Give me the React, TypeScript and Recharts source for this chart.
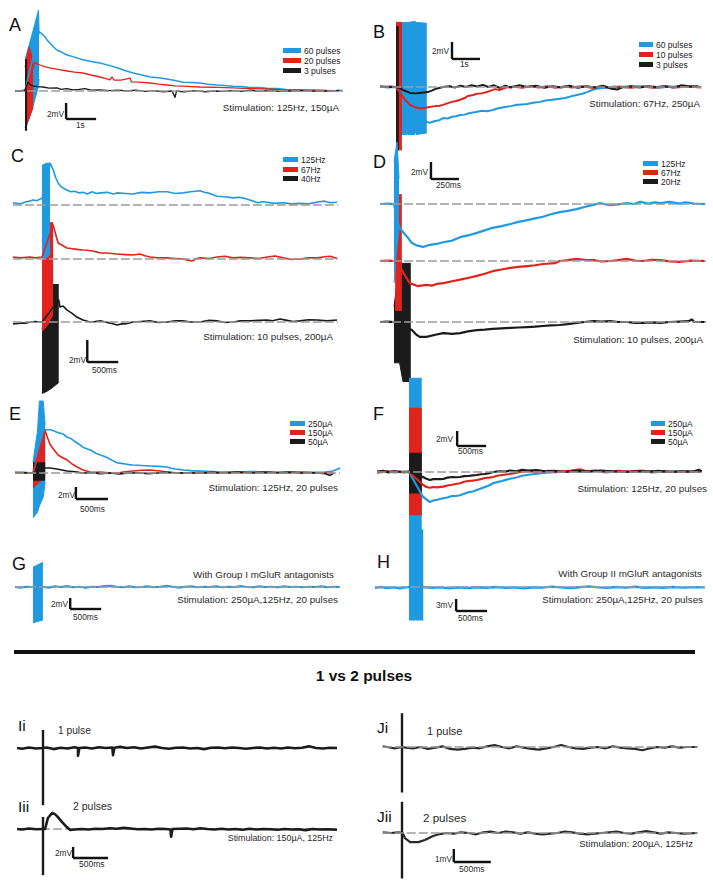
import React from "react";
import { ComposedChart, Line, Area, XAxis, YAxis, ReferenceLine } from "recharts";

const BLUE = "#1f9ae0";
const RED = "#e2231d";
const BLACK = "#1b1b1b";
const GRAY = "#9c9c9c";
const FONT = "'Liberation Sans', Arial, Helvetica, sans-serif";

type Pt = [number, number];
type Rg = [number, number, number];

// ---------------- Panel A (t in s, v in mV) ----------------
const aBase: Pt[] = [[-0.33, 0], [10.6, 0]];
const aBlueBurst: Rg[] = [[0, -4.9, 3.9], [0.23, -2.4, 7.0], [0.45, 0.6, 10.1], [0.47, 1.5, 7.4]];
const aBlue: Pt[] = [[-0.33, 0.05], [-0.2, -0.05], [-0.1, 0.05], [0, 0.1], [0.47, 7.4], [0.55, 7.2], [0.67, 6.75], [0.75, 6.3], [0.83, 6.0], [0.95, 5.5], [1.07, 5.1], [1.2, 4.9], [1.4, 4.5], [1.6, 4.3], [1.93, 3.9], [2.2, 3.7], [2.5, 3.5], [2.8, 3.2], [3.07, 2.9], [3.3, 2.6], [3.6, 2.25], [3.9, 2.0], [4.17, 1.75], [4.45, 1.65], [4.73, 1.5], [5.0, 1.3], [5.27, 1.1], [5.55, 1.05], [5.83, 1.0], [6.1, 0.85], [6.4, 0.75], [6.65, 0.7], [6.93, 0.6], [7.2, 0.55], [7.5, 0.45], [7.8, 0.45], [8.07, 0.35], [8.4, 0.3], [8.7, 0.2], [9.17, 0.15], [9.5, 0.1], [9.9, 0.05], [10.27, 0], [10.45, 0.1], [10.6, 0.05]];
const aRedBurst: Rg[] = [[0, -4.6, 3.0], [0.13, -3.5, 5.5], [0.27, -2.0, 4.0]];
const aRed: Pt[] = [[-0.33, 0], [-0.15, 0.05], [0, 0], [0.33, 3.6], [0.4, 3.4], [0.5, 3.25], [0.65, 3.05], [0.83, 2.9], [1.1, 2.7], [1.4, 2.5], [1.65, 2.35], [1.93, 2.25], [2.2, 2.0], [2.5, 1.75], [2.7, 1.55], [2.83, 1.4], [2.9, 1.75], [2.97, 1.35], [3.2, 1.35], [3.5, 1.6], [3.55, 1.15], [3.8, 1.1], [4.17, 1.0], [4.45, 0.85], [4.73, 0.75], [5.0, 0.65], [5.27, 0.6], [5.55, 0.55], [5.83, 0.5], [6.4, 0.45], [6.93, 0.4], [7.5, 0.3], [8.07, 0.25], [8.6, 0.15], [9.17, 0.12], [9.7, 0.1], [10.27, 0.05]];
const aBlackBurst: Rg[] = [[0, -4.9, 3.9], [0.07, -4.9, 3.9]];
const aBlack: Pt[] = [[-0.33, -0.05], [-0.15, 0.05], [0, 0.1], [0.1, 1.1], [0.17, 0.8], [0.27, 0.6], [0.4, 0.55], [0.6, 0.5], [0.8, 0.35], [1.07, 0.4], [1.2, 0.2], [1.4, 0.3], [1.6, 0.15], [1.8, 0.2], [2.0, 0.3], [2.2, 0.1], [2.5, 0.15], [2.8, 0.05], [3.1, 0.12], [3.4, 0.0], [3.7, 0.1], [4.0, -0.05], [4.3, 0.05], [4.6, -0.1], [4.9, 0.0], [5.0, -0.8], [5.05, 0.0], [5.3, -0.1], [5.7, 0.05], [6.0, -0.1], [6.3, 0.0], [6.6, -0.05], [6.9, 0.05], [7.2, -0.05], [7.5, 0.1], [7.8, -0.05], [8.1, 0.05], [8.5, -0.05], [8.9, 0.0], [9.3, 0.05], [9.7, -0.05], [10.1, 0.0], [10.5, 0.05]];
const aLegend = ["60 pulses", "20 pulses", "3 pulses"];

// ---------------- Panel B ----------------
const bBase: Pt[] = [[-0.57, 0], [10.93, 0]];
const bBlueBurst: Rg[] = [[0, -5.6, 7.5], [0.38, -5.6, 7.6], [0.39, -4.9, 7.6], [0.42, -5.6, 7.6], [0.67, -5.6, 7.7], [0.68, -5.0, 7.7], [0.72, -5.6, 7.6], [1.1, -5.4, 7.5]];
const bBlue: Pt[] = [[-0.57, 0.05], [-0.3, -0.05], [0, 0], [1.1, -4.1], [1.2, -4.2], [1.39, -4.0], [1.55, -3.9], [1.68, -3.65], [1.85, -3.7], [2.0, -3.5], [2.15, -3.45], [2.29, -3.3], [2.45, -3.25], [2.64, -3.05], [2.85, -2.95], [3.07, -2.8], [3.25, -2.85], [3.46, -2.7], [3.65, -2.5], [3.89, -2.35], [4.1, -2.25], [4.32, -2.1], [4.5, -2.05], [4.68, -2.0], [4.9, -1.85], [5.14, -1.75], [5.35, -1.6], [5.57, -1.5], [5.8, -1.4], [6.04, -1.3], [6.25, -1.1], [6.46, -0.95], [6.65, -0.8], [6.82, -0.6], [7.0, -0.35], [7.1, -0.25], [7.3, -0.15], [7.46, -0.1], [7.8, 0.05], [8.2, -0.05], [8.6, 0.1], [9.0, 0.0], [9.4, -0.1], [9.8, 0.05], [10.2, 0.0], [10.6, 0.05], [10.9, 0.0]];
const bRedBurst: Rg[] = [[0, -7.4, 7.6], [0.21, -7.4, 7.6]];
const bRed: Pt[] = [[-0.57, 0], [-0.2, 0.05], [0, 0], [0.21, -0.95], [0.32, -1.5], [0.5, -2.1], [0.75, -2.45], [0.9, -2.5], [1.04, -2.45], [1.2, -2.35], [1.39, -2.25], [1.55, -2.2], [1.68, -2.1], [1.85, -1.9], [2.0, -1.75], [2.15, -1.65], [2.29, -1.5], [2.45, -1.3], [2.57, -1.05], [2.75, -0.95], [2.89, -0.8], [3.05, -0.75], [3.25, -0.6], [3.4, -0.4], [3.54, -0.25], [3.7, -0.35], [3.89, -0.1], [4.2, 0.05], [4.5, -0.1], [4.8, 0.1], [5.1, -0.05], [5.4, 0.1], [5.7, -0.1], [6.0, 0.05], [6.3, -0.05], [6.6, 0.1], [7.0, -0.1], [7.3, 0.05], [7.7, -0.15], [8.0, 0.05], [8.4, -0.1], [8.8, 0.05], [9.2, -0.1], [9.6, 0.05], [10.0, -0.05], [10.4, 0.05], [10.9, -0.05]];
const bBlackBurst: Rg[] = [[0, -7.4, 7.1], [0.1, -7.4, 7.1]];
const bBlack: Pt[] = [[-0.57, 0.05], [-0.3, 0.0], [0, 0], [0.1, -0.1], [0.25, -0.35], [0.5, -0.7], [0.7, -0.75], [0.86, -0.7], [1.14, -0.6], [1.3, -0.4], [1.39, -0.25], [1.68, 0.0], [1.9, 0.1], [2.1, -0.05], [2.3, 0.15], [2.5, 0.0], [2.7, 0.2], [2.9, 0.05], [3.1, 0.25], [3.3, 0.0], [3.5, 0.2], [3.7, -0.1], [3.9, 0.15], [4.1, -0.05], [4.4, 0.2], [4.7, 0.0], [5.0, 0.15], [5.3, -0.1], [5.6, 0.1], [5.9, -0.05], [6.2, 0.15], [6.5, -0.1], [6.8, 0.1], [7.1, -0.05], [7.4, 0.15], [7.7, -0.2], [7.9, -0.3], [8.1, 0.0], [8.4, 0.1], [8.7, -0.05], [9.0, 0.1], [9.3, 0.0], [9.6, 0.1], [9.9, -0.05], [10.2, 0.2], [10.5, 0.05], [10.8, 0.1]];
const bLegend = ["60 pulses", "10 pulses", "3 pulses"];

// ---------------- Panel C ----------------
const cBase: Pt[] = [[-0.47, 0], [4.77, 0]];
const cBlueBurst: Rg[] = [[0, -5.0, 3.6], [0.07, -4.8, 3.8], [0.13, -4.5, 3.8]];
const cBlue: Pt[] = [[-0.47, 0.2], [-0.35, 0.1], [-0.27, 0.27], [-0.2, 0.35], [-0.15, 0.45], [-0.08, 0.4], [-0.03, 0.55], [0, 0.6], [0.13, 3.8], [0.18, 3.2], [0.22, 2.5], [0.26, 2.0], [0.3, 1.7], [0.34, 1.55], [0.4, 1.36], [0.46, 1.2], [0.53, 1.25], [0.6, 1.1], [0.66, 1.15], [0.73, 1.0], [0.81, 1.2], [0.88, 1.05], [0.94, 1.1], [1.05, 1.15], [1.15, 1.0], [1.21, 1.1], [1.35, 1.05], [1.47, 1.0], [1.6, 1.15], [1.74, 1.1], [1.88, 1.2], [2.02, 1.2], [2.15, 1.05], [2.27, 1.1], [2.4, 1.2], [2.55, 1.3], [2.62, 1.15], [2.68, 1.1], [2.75, 0.95], [2.82, 0.8], [2.95, 0.75], [3.08, 0.65], [3.18, 0.7], [3.27, 0.6], [3.35, 0.45], [3.48, 0.2], [3.56, 0.3], [3.63, 0.25], [3.75, 0.15], [3.89, 0.2], [4.02, 0.1], [4.16, 0.15], [4.3, 0.1], [4.44, 0.27], [4.56, 0.35], [4.65, 0.2], [4.76, 0.25]];
const cRedBurst: Rg[] = [[0, -6.6, 3.3], [0.09, -6.0, 3.3], [0.18, -5.0, 3.3]];
const cRed: Pt[] = [[-0.47, 0.18], [-0.35, 0.1], [-0.19, 0.18], [-0.1, 0.1], [0, 0.18], [0.18, 3.1], [0.21, 2.45], [0.26, 1.45], [0.34, 1.2], [0.4, 1.0], [0.47, 0.95], [0.53, 0.9], [0.6, 0.85], [0.66, 0.82], [0.73, 0.8], [0.81, 0.73], [0.88, 0.65], [0.94, 0.55], [1.05, 0.55], [1.21, 0.45], [1.35, 0.4], [1.47, 0.36], [1.58, 0.45], [1.66, 0.3], [1.74, 0.18], [1.88, 0.1], [2.02, 0.1], [2.15, 0.05], [2.27, 0.0], [2.35, -0.1], [2.42, -0.18], [2.5, 0.05], [2.55, 0.1], [2.7, 0.05], [2.82, 0.18], [2.95, 0.25], [3.08, 0.1], [3.2, 0.15], [3.35, 0.1], [3.5, 0.05], [3.63, 0.18], [3.76, 0.27], [3.89, 0.1], [4.02, -0.05], [4.16, 0.0], [4.3, 0.1], [4.44, 0.1], [4.56, 0.2], [4.65, 0.25], [4.76, 0.05]];
const cBlackBurst: Rg[] = [[0, -6.5, -0.7], [0.08, -6.3, 1.5], [0.16, -6.0, 3.4], [0.27, -5.5, 3.4]];
const cBlack: Pt[] = [[-0.47, -0.18], [-0.35, -0.1], [-0.27, -0.1], [-0.18, 0.0], [-0.11, 0.05], [0, 0.0], [0.27, 2.0], [0.29, 1.36], [0.34, 1.45], [0.4, 1.1], [0.48, 0.8], [0.56, 0.45], [0.66, 0.18], [0.75, 0.05], [0.81, 0.0], [0.94, 0.1], [1.02, 0.0], [1.1, -0.1], [1.21, -0.27], [1.3, -0.15], [1.34, -0.18], [1.47, 0.0], [1.6, 0.05], [1.74, 0.1], [1.88, -0.05], [2.02, 0.0], [2.15, 0.1], [2.27, 0.1], [2.4, 0.0], [2.55, 0.0], [2.7, 0.15], [2.82, 0.1], [2.95, -0.05], [3.08, 0.0], [3.2, 0.1], [3.35, 0.1], [3.5, 0.15], [3.63, 0.18], [3.72, 0.12], [3.84, 0.27], [3.95, 0.15], [4.05, 0.05], [4.16, 0.1], [4.3, 0.2], [4.44, 0.18], [4.6, 0.1], [4.76, 0.18]];
const cLegend = ["125Hz", "67Hz", "40Hz"];

// ---------------- Panel D ----------------
const dBase: Pt[] = [[-0.125, 0], [2.78, 0]];
const dBlueBurst: Rg[] = [[0, -9.3, 5.0], [0.027, -5.0, 7.3], [0.045, -3.0, 3.0]];
const dBlue: Pt[] = [[-0.125, 0], [-0.06, 0.05], [0, 0], [0.045, -2.7], [0.08, -3.3], [0.12, -3.9], [0.16, -4.6], [0.21, -4.9], [0.26, -5.05], [0.32, -4.8], [0.38, -4.7], [0.44, -4.5], [0.52, -4.3], [0.59, -3.9], [0.66, -3.7], [0.74, -3.4], [0.81, -3.1], [0.88, -2.8], [0.96, -2.6], [1.04, -2.35], [1.11, -2.1], [1.19, -1.9], [1.26, -1.7], [1.33, -1.5], [1.4, -1.2], [1.48, -0.95], [1.55, -0.8], [1.63, -0.6], [1.7, -0.35], [1.78, -0.1], [1.84, 0.1], [1.93, -0.15], [2.0, -0.05], [2.08, 0.1], [2.14, 0.0], [2.2, 0.25], [2.27, 0.05], [2.33, 0.2], [2.38, 0.1], [2.46, 0.25], [2.55, 0.05], [2.6, 0.2], [2.68, 0.05], [2.78, 0.0]];
const dRedBurst: Rg[] = [[0.01, -5.8, 7.8], [0.07, -5.8, 7.8]];
const dRed: Pt[] = [[-0.125, 0.0], [-0.06, 0.05], [0.01, 0], [0.07, -1.05], [0.1, -1.75], [0.14, -2.6], [0.21, -2.95], [0.29, -2.8], [0.34, -2.9], [0.38, -2.7], [0.44, -2.6], [0.53, -2.35], [0.59, -2.2], [0.66, -2.0], [0.74, -1.75], [0.81, -1.5], [0.88, -1.2], [0.96, -1.0], [1.04, -0.8], [1.11, -0.7], [1.19, -0.6], [1.26, -0.5], [1.33, -0.35], [1.44, -0.25], [1.48, 0.0], [1.55, 0.1], [1.63, 0.25], [1.7, 0.15], [1.78, 0.1], [1.85, -0.05], [1.93, 0.0], [2.0, 0.1], [2.08, 0.25], [2.15, 0.05], [2.22, 0.0], [2.3, 0.15], [2.38, 0.1], [2.46, -0.05], [2.55, -0.1], [2.65, 0.05], [2.78, 0.0]];
const dBlackBurst: Rg[] = [[0, -4.8, 1.8], [0.05, -4.8, 6.9], [0.08, -7.0, 6.9], [0.15, -7.0, 6.9]];
const dBlack: Pt[] = [[-0.125, 0.0], [-0.06, 0.05], [0, 0], [0.16, -0.95], [0.2, -1.5], [0.23, -1.75], [0.29, -1.75], [0.37, -1.5], [0.44, -1.3], [0.52, -1.4], [0.59, -1.3], [0.66, -1.1], [0.74, -0.95], [0.81, -0.9], [0.88, -0.8], [0.96, -0.75], [1.04, -0.7], [1.11, -0.65], [1.19, -0.6], [1.26, -0.55], [1.33, -0.47], [1.4, -0.4], [1.48, -0.35], [1.55, -0.25], [1.63, -0.1], [1.7, 0.0], [1.78, 0.1], [1.85, 0.05], [1.93, 0.1], [2.0, 0.0], [2.08, 0.0], [2.15, -0.1], [2.22, -0.1], [2.3, -0.05], [2.38, -0.1], [2.46, 0.0], [2.55, 0.05], [2.63, 0.1], [2.66, 0.3], [2.68, 0.0], [2.78, 0.0]];
const dLegend = ["125Hz", "67Hz", "20Hz"];

// ---------------- Panel E ----------------
const eBase: Pt[] = [[-0.28, 0], [4.8, 0]];
const eBlueBurst: Rg[] = [[0, -7.5, 1.8], [0.07, -6.5, 7.0], [0.1, -5.5, 12.0], [0.16, -4.0, 12.0], [0.19, -1.5, 8.0]];
const eBlue: Pt[] = [[-0.28, 0.0], [-0.15, 0.1], [0, 0.0], [0.19, 7.2], [0.27, 7.2], [0.33, 7.0], [0.375, 6.8], [0.47, 6.5], [0.53, 6.0], [0.6, 5.7], [0.66, 5.2], [0.72, 4.8], [0.78, 4.3], [0.85, 4.0], [0.92, 3.7], [0.98, 3.3], [1.05, 3.0], [1.11, 2.8], [1.17, 2.5], [1.24, 2.1], [1.31, 1.7], [1.38, 1.6], [1.44, 1.5], [1.5, 1.4], [1.56, 1.33], [1.7, 1.25], [1.83, 1.17], [1.96, 1.1], [2.09, 1.0], [2.16, 0.8], [2.22, 0.67], [2.28, 0.6], [2.34, 0.5], [2.47, 0.4], [2.61, 0.33], [2.87, 0.2], [3.13, 0.17], [3.4, 0.25], [3.66, 0.17], [3.9, 0.1], [4.17, 0.17], [4.4, 0.1], [4.56, 0.17], [4.69, 0.33], [4.8, 0.83]];
const eRedBurst: Rg[] = [[0, -2.5, 0.5], [0.1, -1.5, 4.0], [0.19, -0.5, 7.3]];
const eRed: Pt[] = [[-0.28, 0.0], [-0.12, 0.05], [0, 0.0], [0.19, 7.0], [0.23, 5.8], [0.27, 4.7], [0.34, 3.7], [0.39, 3.0], [0.47, 2.5], [0.53, 2.2], [0.61, 1.5], [0.69, 1.0], [0.78, 0.5], [0.89, 0.17], [0.97, 0.1], [1.05, 0.17], [1.18, 0.05], [1.31, 0.0], [1.44, 0.2], [1.56, 0.33], [1.7, 0.45], [1.83, 0.5], [1.98, 0.33], [2.09, 0.17], [2.22, 0.05], [2.34, 0.0], [2.6, 0.1], [2.87, 0.0], [3.13, 0.1], [3.4, 0.05], [3.66, 0.15], [3.9, 0.0], [4.17, 0.1], [4.4, 0.05], [4.69, 0.0]];
const eBlackBurst: Rg[] = [[0, -1.2, 1.7], [0.19, -1.2, 1.7]];
const eBlack: Pt[] = [[-0.28, 0.1], [-0.12, 0.05], [0, 0.0], [0.19, 0.83], [0.27, 0.83], [0.375, 0.67], [0.45, 0.5], [0.53, 0.33], [0.66, 0.2], [0.78, 0.0], [0.92, 0.05], [1.05, -0.1], [1.2, 0.0], [1.35, -0.15], [1.5, 0.0], [1.65, 0.05], [1.8, -0.1], [1.95, 0.0], [2.1, 0.1], [2.25, 0.0], [2.4, 0.05], [2.6, -0.05], [2.8, 0.1], [3.0, 0.0], [3.2, 0.15], [3.4, 0.0], [3.6, 0.1], [3.8, 0.05], [4.0, 0.15], [4.2, 0.0], [4.4, 0.05], [4.56, -0.1], [4.64, -0.4], [4.7, 0.0]];
const eLegend = ["250µA", "150µA", "50µA"];

// ---------------- Panel F ----------------
const fBase: Pt[] = [[-0.55, 0], [5.05, 0]];
const fBlueBurst: Rg[] = [[0, -8.0, 12.5], [0.22, -8.0, 12.5]];
const fBlue: Pt[] = [[-0.55, 0.0], [-0.4, 0.1], [-0.25, -0.05], [-0.1, 0.05], [0, 0.0], [0.24, -3.3], [0.36, -4.0], [0.42, -3.8], [0.48, -3.7], [0.59, -3.5], [0.66, -3.4], [0.74, -3.2], [0.81, -3.2], [0.88, -3.1], [0.95, -2.9], [1.02, -2.7], [1.1, -2.6], [1.17, -2.4], [1.24, -2.2], [1.31, -2.0], [1.38, -1.8], [1.45, -1.5], [1.52, -1.35], [1.6, -1.2], [1.67, -1.05], [1.74, -0.9], [1.81, -0.8], [1.88, -0.67], [1.95, -0.5], [2.03, -0.4], [2.17, -0.27], [2.31, -0.13], [2.45, -0.05], [2.6, 0.0], [2.8, 0.1], [3.0, 0.0], [3.2, 0.15], [3.4, -0.05], [3.6, 0.1], [3.8, 0.0], [4.0, 0.1], [4.2, -0.05], [4.4, 0.05], [4.6, 0.1], [4.8, 0.0], [5.05, 0.05]];
const fRedBurst: Rg[] = [[0, -5.7, 8.5], [0.22, -5.7, 8.5]];
const fRed: Pt[] = [[-0.55, -0.1], [-0.4, 0.05], [-0.25, 0.1], [-0.1, -0.05], [0, 0.0], [0.24, -1.7], [0.3, -2.0], [0.36, -2.1], [0.42, -2.0], [0.48, -2.05], [0.59, -1.95], [0.66, -1.8], [0.74, -1.7], [0.81, -1.6], [0.88, -1.5], [0.95, -1.3], [1.02, -1.2], [1.1, -1.15], [1.17, -1.07], [1.24, -0.95], [1.31, -0.8], [1.38, -0.75], [1.45, -0.67], [1.52, -0.5], [1.6, -0.4], [1.67, -0.33], [1.74, -0.27], [1.82, -0.15], [1.91, 0.0], [2.05, 0.1], [2.2, 0.0], [2.4, 0.15], [2.6, 0.05], [2.8, 0.2], [2.95, 0.35], [3.05, 0.1], [3.2, 0.2], [3.4, 0.0], [3.6, 0.15], [3.8, 0.05], [4.0, 0.2], [4.2, 0.0], [4.4, 0.1], [4.6, 0.0], [4.8, 0.05], [5.0, 0.0]];
const fBlackBurst: Rg[] = [[0, -2.8, 2.5], [0.22, -2.8, 2.5]];
const fBlack: Pt[] = [[-0.55, 0.05], [-0.45, 0.15], [-0.35, -0.05], [-0.25, 0.1], [-0.1, 0.0], [0, 0.05], [0.24, -0.67], [0.3, -0.9], [0.36, -1.07], [0.42, -0.95], [0.48, -0.93], [0.54, -0.95], [0.59, -0.93], [0.66, -0.75], [0.74, -0.67], [0.81, -0.7], [0.88, -0.67], [0.95, -0.55], [1.02, -0.53], [1.1, -0.45], [1.17, -0.4], [1.24, -0.3], [1.31, -0.27], [1.38, -0.15], [1.45, 0.0], [1.55, 0.1], [1.65, 0.05], [1.75, 0.2], [1.85, 0.1], [1.95, 0.3], [2.05, 0.2], [2.2, 0.25], [2.35, 0.1], [2.5, 0.15], [2.7, 0.0], [2.9, 0.15], [3.1, 0.05], [3.3, 0.2], [3.5, 0.1], [3.7, 0.0], [3.9, 0.1], [4.1, 0.05], [4.3, 0.15], [4.5, 0.0], [4.7, 0.1], [4.9, 0.05], [5.0, 0.3], [5.05, 0.05]];
const fLegend = ["250µA", "150µA", "50µA"];

// ---------------- Panel G ----------------
const gBase: Pt[] = [[-0.29, 0], [4.95, 0]];
const gBlueBurst: Rg[] = [[0, -6.5, 3.6], [0.16, -6.0, 4.5]];
const gBlue: Pt[] = [[-0.29, 0.0], [-0.2, -0.1], [-0.1, 0.05], [0, 0.0], [0.16, 0.0], [0.25, -0.1], [0.35, 0.1], [0.45, 0.0], [0.55, 0.15], [0.65, -0.05], [0.75, 0.05], [0.85, -0.1], [0.95, 0.05], [1.05, 0.0], [1.15, 0.15], [1.25, 0.2], [1.35, 0.05], [1.45, -0.05], [1.55, 0.1], [1.65, -0.05], [1.75, 0.0], [1.85, 0.1], [1.95, -0.05], [2.05, 0.05], [2.15, 0.2], [2.25, 0.05], [2.35, -0.1], [2.45, 0.05], [2.55, 0.1], [2.65, -0.05], [2.75, 0.05], [2.85, 0.0], [2.95, 0.1], [3.05, -0.05], [3.15, 0.05], [3.25, 0.0], [3.35, 0.15], [3.45, 0.0], [3.55, -0.05], [3.65, 0.1], [3.75, 0.0], [3.85, 0.05], [3.95, -0.05], [4.05, 0.1], [4.15, 0.0], [4.25, 0.05], [4.35, -0.05], [4.45, 0.05], [4.55, 0.0], [4.65, 0.1], [4.75, -0.05], [4.85, 0.05], [4.95, 0.0]];

// ---------------- Panel H ----------------
const hBase: Pt[] = [[-0.55, 0], [4.77, 0]];
const hBlueBurst: Rg[] = [[0, -8.25, 14.25], [0.23, -8.25, 14.25]];
const hBlue: Pt[] = [[-0.55, -0.2], [-0.45, 0.0], [-0.35, -0.25], [-0.25, -0.1], [-0.15, -0.3], [-0.05, -0.1], [0, 0.0], [0.23, 0.0], [0.35, -0.2], [0.5, -0.1], [0.65, -0.3], [0.8, -0.1], [0.95, -0.25], [1.1, -0.05], [1.25, -0.2], [1.4, 0.0], [1.55, -0.2], [1.7, -0.1], [1.85, -0.3], [2.0, -0.05], [2.15, -0.15], [2.3, 0.1], [2.45, -0.1], [2.6, -0.25], [2.75, -0.05], [2.9, 0.15], [3.05, -0.1], [3.2, -0.2], [3.35, 0.0], [3.5, -0.15], [3.65, 0.05], [3.8, -0.2], [3.95, -0.05], [4.1, -0.2], [4.25, 0.0], [4.4, -0.15], [4.55, -0.05], [4.77, -0.1]];

// ---------------- Panel I (1 vs 2 pulses) ----------------
const iBase: Pt[] = [[-0.37, 0], [4.2, 0]];
const iiStim: Pt[] = [[0, 3.3], [0, -10.4]];
const iiTrace: Pt[] = [[-0.37, 0.0], [-0.3, -0.15], [-0.2, 0.1], [-0.1, -0.1], [0, 0.0], [0.05, 0.1], [0.15, -0.2], [0.25, 0.05], [0.35, -0.1], [0.45, 0.15], [0.5, 0.0], [0.5, -1.4], [0.52, 0.0], [0.6, 0.1], [0.7, -0.1], [0.8, 0.15], [0.9, 0.0], [0.99, 0.1], [1.0, -1.3], [1.02, 0.05], [1.1, 0.2], [1.2, 0.0], [1.3, 0.15], [1.4, -0.1], [1.5, 0.1], [1.6, 0.25], [1.7, 0.0], [1.8, -0.15], [1.9, 0.05], [2.0, 0.1], [2.1, -0.1], [2.2, 0.0], [2.3, -0.2], [2.4, 0.05], [2.5, 0.1], [2.6, -0.05], [2.7, 0.1], [2.8, 0.0], [2.9, -0.15], [3.0, 0.0], [3.1, 0.1], [3.2, -0.1], [3.3, 0.05], [3.4, -0.1], [3.5, 0.1], [3.6, -0.05], [3.7, 0.05], [3.8, 0.3], [3.9, 0.0], [4.0, -0.1], [4.1, 0.05], [4.2, 0.0]];
const iiiStim: Pt[] = [[0, 2.2], [0, -8.4]];
const iiiTrace: Pt[] = [[-0.37, 0.0], [-0.3, -0.1], [-0.2, 0.1], [-0.1, -0.05], [0, 0.0], [0.03, 0.0], [0.07, 2.0], [0.13, 2.9], [0.17, 2.7], [0.21, 2.2], [0.27, 1.3], [0.34, 0.36], [0.39, -0.18], [0.45, -0.1], [0.55, 0.0], [0.65, -0.1], [0.75, 0.05], [0.85, 0.0], [0.95, 0.15], [1.05, 0.05], [1.15, 0.2], [1.25, 0.1], [1.35, -0.05], [1.45, 0.0], [1.55, -0.1], [1.65, 0.05], [1.75, 0.0], [1.82, -0.1], [1.83, -1.4], [1.85, 0.0], [1.95, 0.05], [2.05, 0.1], [2.15, -0.05], [2.25, 0.15], [2.35, 0.0], [2.45, -0.1], [2.55, 0.05], [2.65, -0.1], [2.75, 0.0], [2.85, -0.15], [2.95, 0.05], [3.05, -0.1], [3.15, 0.0], [3.25, -0.05], [3.35, -0.15], [3.45, 0.0], [3.55, -0.1], [3.65, -0.05], [3.75, -0.2], [3.85, 0.0], [3.95, -0.1], [4.05, -0.05], [4.2, -0.15]];

// ---------------- Panel J ----------------
const jBase: Pt[] = [[-0.26, 0], [3.99, 0]];
const jiStim: Pt[] = [[0, 2.6], [0, -3.5]];
const jiTrace: Pt[] = [[-0.26, 0.05], [-0.2, 0.0], [-0.1, -0.1], [0, 0.0], [0.05, -0.05], [0.15, -0.1], [0.25, 0.0], [0.35, -0.15], [0.45, -0.05], [0.55, 0.05], [0.65, -0.15], [0.75, -0.2], [0.85, -0.15], [0.95, -0.05], [1.05, -0.1], [1.15, 0.05], [1.25, 0.15], [1.35, 0.0], [1.45, -0.1], [1.55, 0.05], [1.65, -0.05], [1.75, -0.15], [1.85, -0.2], [1.95, -0.1], [2.05, 0.0], [2.15, 0.15], [2.25, 0.0], [2.35, -0.1], [2.45, -0.15], [2.55, -0.05], [2.65, 0.0], [2.75, -0.1], [2.85, 0.05], [2.95, -0.05], [3.05, -0.1], [3.15, -0.15], [3.25, -0.25], [3.35, -0.1], [3.45, 0.0], [3.55, -0.05], [3.65, 0.05], [3.75, -0.05], [3.85, 0.0], [3.99, 0.0]];
const jiiStim: Pt[] = [[0, 2.4], [0, -3.5]];
const jiiTrace: Pt[] = [[-0.26, 0.05], [-0.15, 0.0], [-0.05, 0.05], [0, 0.0], [0.01, 0.0], [0.04, -0.4], [0.11, -0.7], [0.22, -0.7], [0.31, -0.54], [0.42, -0.23], [0.51, -0.08], [0.6, 0.0], [0.7, -0.05], [0.8, 0.05], [0.9, 0.0], [1.0, -0.1], [1.1, 0.05], [1.2, 0.1], [1.3, 0.0], [1.4, 0.1], [1.5, 0.05], [1.6, -0.05], [1.7, 0.05], [1.8, -0.05], [1.9, -0.1], [2.0, -0.05], [2.1, 0.0], [2.2, 0.1], [2.3, 0.05], [2.4, -0.05], [2.5, -0.1], [2.6, -0.05], [2.7, 0.0], [2.8, 0.05], [2.9, 0.1], [3.0, 0.0], [3.1, -0.05], [3.2, 0.05], [3.3, 0.15], [3.4, 0.05], [3.5, -0.05], [3.6, 0.05], [3.7, 0.0], [3.8, -0.05], [3.99, 0.0]];

// ---------------- helpers ----------------
type Series =
  | { kind: "line"; data: Pt[]; color: string; width: number; row: number; dash?: string }
  | { kind: "burst"; data: Rg[]; color: string; row: number };

const L = (data: Pt[], color: string, width: number, row = 0, dash?: string): Series => ({ kind: "line", data, color, width, row, dash });
const B = (data: Rg[], color: string, row = 0): Series => ({ kind: "burst", data, color, row });
const DASH = (data: Pt[], row = 0, w = 1.7): Series => L(data, GRAY, w, row, "9 3");

interface Spec {
  left: number; top: number; width: number; height: number;
  originX: number; pxPerSec: number; pxPerMv: number; rows: number[];
  series: Series[];
  bar: { t: number; v: number; dt: number; dv: number; row: number };
}

function Panel({ s }: { s: Spec }) {
  const x0 = (s.left - s.originX) / s.pxPerSec;
  const x1 = x0 + s.width / s.pxPerSec;
  return (
    <div style={{ position: "absolute", left: s.left, top: s.top }}>
      <ComposedChart width={s.width} height={s.height} margin={{ top: 0, right: 0, bottom: 0, left: 0 }}>
        <XAxis type="number" dataKey="t" domain={[x0, x1]} allowDataOverflow hide />
        {s.rows.map((ry, i) => {
          const y1 = (ry - s.top) / s.pxPerMv;
          const y0 = y1 - s.height / s.pxPerMv;
          return <YAxis key={"y" + i} yAxisId={i} type="number" domain={[y0, y1]} allowDataOverflow hide />;
        })}
        {s.series.map((se, i) =>
          se.kind === "burst" ? (
            <Area
              key={"s" + i}
              yAxisId={se.row}
              data={se.data.map(([t, lo, hi]) => ({ t, r: [lo, hi] }))}
              dataKey="r"
              type="linear"
              stroke={se.color}
              strokeWidth={1}
              fill={se.color}
              fillOpacity={1}
              dot={false}
              activeDot={false}
              isAnimationActive={false}
            />
          ) : (
            <Line
              key={"s" + i}
              yAxisId={se.row}
              data={se.data.map(([t, v]) => ({ t, v }))}
              dataKey="v"
              type="linear"
              stroke={se.color}
              strokeWidth={se.width}
              strokeDasharray={se.dash}
              strokeLinejoin="round"
              dot={false}
              activeDot={false}
              isAnimationActive={false}
            />
          )
        )}
        <ReferenceLine
          yAxisId={s.bar.row}
          segment={[{ x: s.bar.t, y: s.bar.v + s.bar.dv }, { x: s.bar.t, y: s.bar.v }]}
          stroke="#111"
          strokeWidth={2.4}
        />
        <ReferenceLine
          yAxisId={s.bar.row}
          segment={[{ x: s.bar.t, y: s.bar.v }, { x: s.bar.t + s.bar.dt, y: s.bar.v }]}
          stroke="#111"
          strokeWidth={2.4}
        />
      </ComposedChart>
    </div>
  );
}

const specs: Spec[] = [
  {
    left: 0, top: 0, width: 356, height: 140, originX: 25, pxPerSec: 30, pxPerMv: 8, rows: [91],
    series: [B(aBlueBurst, BLUE), L(aBlue, BLUE, 1.5), B(aRedBurst, RED), L(aRed, RED, 1.3), B(aBlackBurst, BLACK), L(aBlack, BLACK, 1.3), DASH(aBase)],
    bar: { t: 1.37, v: -3.5, dt: 1, dv: 2, row: 0 },
  },
  {
    left: 360, top: 0, width: 353, height: 155, originX: 396, pxPerSec: 28, pxPerMv: 8.5, rows: [87],
    series: [B(bBlueBurst, BLUE), L(bBlue, BLUE, 2), B(bRedBurst, RED), L(bRed, RED, 2), B(bBlackBurst, BLACK), L(bBlack, BLACK, 2), DASH(bBase)],
    bar: { t: 2.0, v: 3.3, dt: 1, dv: 2, row: 0 },
  },
  {
    left: 0, top: 140, width: 356, height: 260, originX: 42, pxPerSec: 62, pxPerMv: 11, rows: [205, 259, 322],
    series: [B(cBlackBurst, BLACK, 2), L(cBlack, BLACK, 1.6, 2), B(cRedBurst, RED, 1), L(cRed, RED, 1.6, 1), B(cBlueBurst, BLUE, 0), L(cBlue, BLUE, 1.6, 0), DASH(cBase, 0), DASH(cBase, 1), DASH(cBase, 2)],
    bar: { t: 0.73, v: -3.64, dt: 0.5, dv: 2, row: 2 },
  },
  {
    left: 360, top: 135, width: 353, height: 255, originX: 394, pxPerSec: 112, pxPerMv: 8.5, rows: [204, 261, 322],
    series: [B(dBlackBurst, BLACK, 2), L(dBlack, BLACK, 2.2, 2), B(dRedBurst, RED, 1), L(dRed, RED, 2.2, 1), B(dBlueBurst, BLUE, 0), L(dBlue, BLUE, 2.2, 0), DASH(dBase, 0), DASH(dBase, 1), DASH(dBase, 2)],
    bar: { t: 0.33, v: 2.94, dt: 0.25, dv: 2, row: 0 },
  },
  {
    left: 0, top: 395, width: 356, height: 135, originX: 33, pxPerSec: 64, pxPerMv: 6, rows: [473],
    series: [B(eBlueBurst, BLUE), L(eBlue, BLUE, 1.6), B(eRedBurst, RED), L(eRed, RED, 1.6), B(eBlackBurst, BLACK), L(eBlack, BLACK, 1.6), DASH(eBase)],
    bar: { t: 0.67, v: -4.33, dt: 0.5, dv: 2, row: 0 },
  },
  {
    left: 360, top: 372, width: 353, height: 165, originX: 409, pxPerSec: 58, pxPerMv: 7.5, rows: [472],
    series: [B(fBlueBurst, BLUE), L(fBlue, BLUE, 2.2), B(fRedBurst, RED), L(fRed, RED, 2.2), B(fBlackBurst, BLACK), L(fBlack, BLACK, 2.2), DASH(fBase)],
    bar: { t: 0.83, v: 3.47, dt: 0.5, dv: 2, row: 0 },
  },
  {
    left: 0, top: 545, width: 356, height: 85, originX: 33, pxPerSec: 62, pxPerMv: 5.5, rows: [587],
    series: [B(gBlueBurst, BLUE), L(gBlue, BLUE, 2.2), DASH(gBase, 0, 1.5)],
    bar: { t: 0.6, v: -4.0, dt: 0.5, dv: 2, row: 0 },
  },
  {
    left: 360, top: 525, width: 353, height: 100, originX: 409, pxPerSec: 62, pxPerMv: 4, rows: [587],
    series: [B(hBlueBurst, BLUE), L(hBlue, BLUE, 2.4), DASH(hBase, 0, 1.5)],
    bar: { t: 0.76, v: -6.0, dt: 0.5, dv: 3, row: 0 },
  },
  {
    left: 0, top: 700, width: 356, height: 189, originX: 43, pxPerSec: 70, pxPerMv: 5.5, rows: [748, 829],
    series: [DASH(iBase, 1, 1.4), L(iiTrace, BLACK, 2.6, 0), L(iiStim, BLACK, 2.4, 0), L(iiiTrace, BLACK, 2.6, 1), L(iiiStim, BLACK, 2.4, 1)],
    bar: { t: 0.43, v: -5.27, dt: 0.5, dv: 2, row: 1 },
  },
  {
    left: 360, top: 700, width: 353, height: 189, originX: 402, pxPerSec: 74, pxPerMv: 13, rows: [747, 833],
    series: [L(jiTrace, "#2a2a2a", 2.2, 0), L(jiStim, BLACK, 2.4, 0), DASH(jBase, 0, 1.4), L(jiiTrace, "#2a2a2a", 2.2, 1), L(jiiStim, BLACK, 2.4, 1), DASH(jBase, 1, 1.4)],
    bar: { t: 0.7, v: -2.23, dt: 0.5, dv: 1, row: 1 },
  },
];

// ---------------- annotations ----------------
const COLORS3 = [BLUE, RED, BLACK];
const legends = [
  { x: 283, w: 18, ys: [48, 58, 68], labels: aLegend },
  { x: 639, w: 14, ys: [42, 52, 62], labels: bLegend },
  { x: 283, w: 15, ys: [157, 167, 176], labels: cLegend },
  { x: 643, w: 15, ys: [161, 170, 179], labels: dLegend },
  { x: 290, w: 15, ys: [421, 430, 439], labels: eLegend },
  { x: 651, w: 14, ys: [421, 430, 439], labels: fLegend },
];

const panelLabels: [string, number, number, number][] = [
  ["A", 9, 31, 18], ["B", 373, 38, 18], ["C", 11, 162, 18], ["D", 373, 168, 18],
  ["E", 9, 420, 18], ["F", 373, 420, 18], ["G", 12, 570, 18], ["H", 377, 568, 18],
  ["Ii", 18, 731, 15.5], ["Iii", 18, 812, 15.5], ["Ji", 377, 733, 15.5], ["Jii", 377, 822, 15.5],
];

// text, anchor-x (end), baseline, size
const rightTexts: [string, number, number, number][] = [
  ["Stimulation: 125Hz, 150µA", 339, 111, 9.8],
  ["Stimulation: 67Hz, 250µA", 700, 107, 9.8],
  ["Stimulation: 10 pulses, 200µA", 333, 340, 9.8],
  ["Stimulation: 10 pulses, 200µA", 703, 343, 9.8],
  ["Stimulation: 125Hz, 20 pulses", 338, 491, 9.8],
  ["Stimulation: 125Hz, 20 pulses", 707, 492, 9.8],
  ["With Group I mGluR antagonists", 334, 578, 9.8],
  ["Stimulation: 250µA,125Hz, 20 pulses", 338, 603, 9.8],
  ["With Group II mGluR antagonists", 702, 577, 9.8],
  ["Stimulation: 250µA,125Hz, 20 pulses", 703, 603, 9.8],
  ["Stimulation: 150µA, 125Hz", 333, 841, 8.9],
  ["Stimulation: 200µA, 125Hz", 693, 847, 9.6],
  // scale-bar amplitude labels
  ["2mV", 64, 117, 8.3], ["2mV", 449, 54, 8.3], ["2mV", 86, 363, 8.3], ["2mV", 428, 175, 8.3],
  ["2mV", 75, 498, 8.3], ["2mV", 453, 442, 8.3], ["2mV", 68, 607, 8.3], ["3mV", 453, 608, 8.3],
  ["2mV", 72, 856, 8.3], ["1mV", 452, 862, 8.3],
];
// text, start-x, baseline, size
const leftTexts: [string, number, number, number][] = [
  ["1s", 76, 128, 8.3], ["1s", 460, 67, 8.3], ["500ms", 92, 373, 8.3], ["250ms", 436, 188, 8.3],
  ["500ms", 80, 512, 8.3], ["500ms", 458, 454, 8.3], ["500ms", 73, 620, 8.3], ["500ms", 458, 621, 8.3],
  ["500ms", 79, 867, 8.5], ["500ms", 459, 872, 8.5],
  ["1 pulse", 58, 734, 10.2], ["2 pulses", 73, 810, 10.5], ["1 pulse", 427, 735, 11], ["2 pulses", 423, 822, 11.6],
];

function Overlay() {
  return (
    <svg width={713} height={889} style={{ position: "absolute", left: 0, top: 0, pointerEvents: "none" }} fontFamily={FONT}>
      {legends.map((lg, i) => (
        <g key={"lg" + i}>
          {lg.labels.map((lab, j) => (
            <g key={j}>
              <rect x={lg.x} y={lg.ys[j]} width={lg.w} height={5} fill={COLORS3[j]} />
              <text x={lg.x + lg.w + 3} y={lg.ys[j] + 5.5} fontSize={8.5} fill="#222">{lab}</text>
            </g>
          ))}
        </g>
      ))}
      {panelLabels.map(([t, x, y, s], i) => (
        <text key={"pl" + i} x={x} y={y} fontSize={s} fill="#111">{t}</text>
      ))}
      {rightTexts.map(([t, x, y, s], i) => (
        <text key={"rt" + i} x={x} y={y} fontSize={s} fill="#2a2a2a" textAnchor="end">{t}</text>
      ))}
      {leftTexts.map(([t, x, y, s], i) => (
        <text key={"lt" + i} x={x} y={y} fontSize={s} fill="#2a2a2a">{t}</text>
      ))}
      <rect x={14} y={650} width={681} height={4} fill="#111" />
      <text x={364} y={681} fontSize={15.5} fontWeight="bold" textAnchor="middle" fill="#111">1 vs 2 pulses</text>
    </svg>
  );
}

export default function App() {
  return (
    <div style={{ position: "absolute", left: 0, top: 0, width: 713, height: 889, background: "#fff", overflow: "hidden" }}>
      {specs.map((s, i) => (
        <Panel key={i} s={s} />
      ))}
      <Overlay />
    </div>
  );
}
